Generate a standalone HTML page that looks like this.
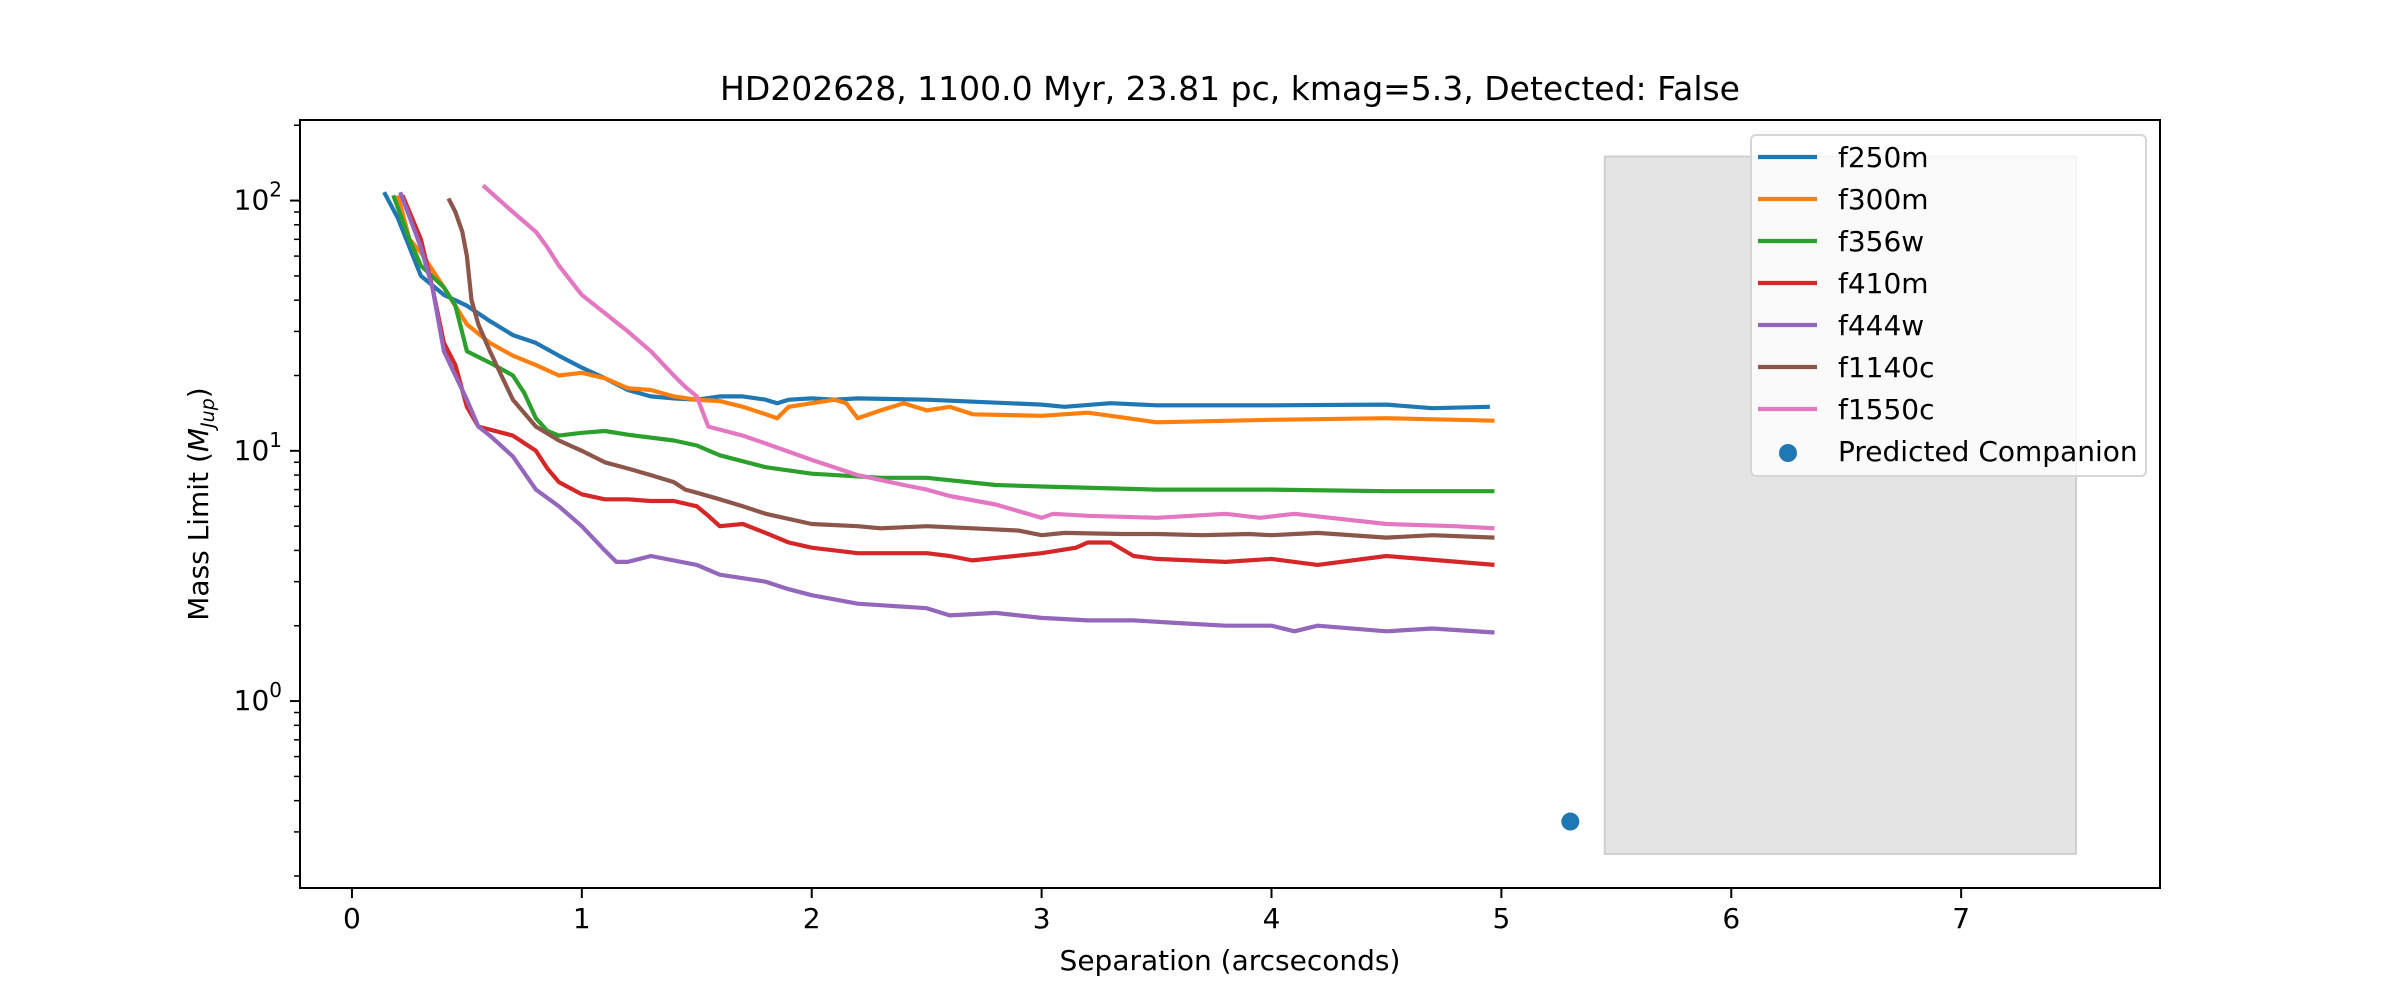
<!DOCTYPE html>
<html><head><meta charset="utf-8"><style>
html,body{margin:0;padding:0;background:#fff}
svg{display:block;font-family:"DejaVu Sans","Liberation Sans",sans-serif}
</style></head><body>
<svg id="chart" width="2400" height="1000" viewBox="0 0 2400 1000">
<rect x="0" y="0" width="2400" height="1000" fill="#fff"/>
<text x="1230" y="100" text-anchor="middle" font-size="33" fill="#000">HD202628, 1100.0 Myr, 23.81 pc, kmag=5.3, Detected: False</text>
<g id="plot"></g>
<text x="1230" y="970" text-anchor="middle" font-size="28">Separation (arcseconds)</text>
<text transform="translate(208,504) rotate(-90)" text-anchor="middle" font-size="28">Mass Limit (<tspan font-style="italic">M</tspan><tspan font-style="italic" font-size="19" dy="6">Jup</tspan><tspan dy="-6">)</tspan></text>
</svg>
<script>
const xTicks=[0,1,2,3,4,5,6,7];
const yMajor=[1,10,100];
const seriesNames=["f250m","f300m","f356w","f410m","f444w","f1140c","f1550c"];
const colors=["#1f77b4","#ff7f0e","#2ca02c","#d62728","#9467bd","#8c564b","#e377c2"];
const f250m=[[0.14,108],[0.2,85],[0.3,50],[0.4,42],[0.5,38],[0.6,33],[0.7,29],[0.8,27],[0.9,24],[1.0,21.5],[1.1,19.5],[1.2,17.5],[1.3,16.5],[1.4,16.2],[1.5,16],[1.6,16.5],[1.7,16.5],[1.8,16],[1.85,15.5],[1.9,16],[2.0,16.2],[2.1,16],[2.2,16.2],[2.5,16],[3.0,15.3],[3.1,15],[3.3,15.5],[3.5,15.2],[4,15.2],[4.5,15.3],[4.7,14.8],[4.95,15]];
const f300m=[[0.2,105],[0.25,70],[0.3,62],[0.4,45],[0.5,32],[0.6,27],[0.7,24],[0.8,22],[0.9,20],[1.0,20.5],[1.1,19.5],[1.2,17.8],[1.3,17.5],[1.4,16.5],[1.5,16],[1.6,15.8],[1.7,15],[1.8,14],[1.85,13.5],[1.9,15],[2.0,15.5],[2.1,16],[2.15,15.5],[2.2,13.5],[2.3,14.5],[2.4,15.5],[2.5,14.5],[2.6,15],[2.7,14],[3,13.8],[3.2,14.2],[3.3,13.8],[3.5,13],[4,13.3],[4.5,13.5],[4.97,13.2]];
const f356w=[[0.18,105],[0.25,70],[0.3,55],[0.4,45],[0.45,38],[0.5,25],[0.6,22.5],[0.7,20],[0.75,17],[0.8,13.5],[0.85,12],[0.9,11.5],[1.0,11.8],[1.1,12],[1.2,11.6],[1.4,11],[1.5,10.5],[1.6,9.6],[1.8,8.6],[2.0,8.1],[2.3,7.8],[2.5,7.8],[2.8,7.3],[3.0,7.2],[3.5,7.0],[4,7.0],[4.5,6.9],[4.97,6.9]];
const f410m=[[0.22,105],[0.3,70],[0.35,45],[0.4,27],[0.45,22],[0.5,15],[0.55,12.5],[0.7,11.5],[0.8,10],[0.85,8.5],[0.9,7.5],[1.0,6.7],[1.1,6.4],[1.2,6.4],[1.3,6.3],[1.4,6.3],[1.5,6.0],[1.55,5.5],[1.6,5.0],[1.7,5.1],[1.8,4.7],[1.9,4.3],[2.0,4.1],[2.2,3.9],[2.5,3.9],[2.6,3.8],[2.7,3.65],[3,3.9],[3.15,4.1],[3.2,4.3],[3.3,4.3],[3.4,3.8],[3.5,3.7],[3.8,3.6],[4.0,3.7],[4.2,3.5],[4.5,3.8],[4.97,3.5]];
const f444w=[[0.21,108],[0.3,65],[0.35,45],[0.4,25],[0.45,20],[0.5,16],[0.55,12.5],[0.6,11.5],[0.7,9.5],[0.8,7],[0.9,6.0],[1.0,5.0],[1.1,4.0],[1.15,3.6],[1.2,3.6],[1.3,3.8],[1.5,3.5],[1.6,3.2],[1.8,3.0],[1.9,2.8],[2.0,2.65],[2.2,2.45],[2.5,2.35],[2.6,2.2],[2.8,2.25],[3.0,2.15],[3.2,2.1],[3.4,2.1],[3.6,2.05],[3.8,2.0],[4.0,2.0],[4.1,1.9],[4.2,2.0],[4.5,1.9],[4.7,1.95],[4.97,1.88]];
const f1140c=[[0.42,102],[0.45,90],[0.48,75],[0.5,60],[0.52,40],[0.55,32],[0.6,25],[0.65,20],[0.7,16],[0.8,12.5],[0.9,11],[1.0,10],[1.1,9],[1.2,8.5],[1.3,8],[1.4,7.5],[1.45,7.0],[1.5,6.8],[1.6,6.4],[1.7,6],[1.8,5.6],[2.0,5.1],[2.2,5.0],[2.3,4.9],[2.5,5.0],[2.7,4.9],[2.9,4.8],[3.0,4.6],[3.1,4.7],[3.35,4.65],[3.5,4.65],[3.7,4.6],[3.9,4.65],[4.0,4.6],[4.2,4.7],[4.5,4.5],[4.7,4.6],[4.97,4.5]];
const f1550c=[[0.57,115],[0.7,90],[0.8,75],[0.85,65],[0.9,55],[1.0,42],[1.2,30],[1.3,25],[1.4,20],[1.45,18],[1.5,16.5],[1.55,12.5],[1.7,11.5],[1.8,10.7],[2.0,9.2],[2.2,8],[2.4,7.3],[2.5,7],[2.6,6.6],[2.8,6.1],[3.0,5.4],[3.05,5.6],[3.2,5.5],[3.5,5.4],[3.8,5.6],[3.95,5.4],[4.1,5.6],[4.5,5.1],[4.8,5.0],[4.97,4.9]];
const seriesData=[f250m,f300m,f356w,f410m,f444w,f1140c,f1550c];
const companion=[5.3,0.33];
const shadeX=[5.45,7.5];
const shadeY=[0.245,150];

const L=300,R=2160,T=120,B=888;
const X0=-0.226,X1=7.865,LY0=-0.747,LY1=2.322;
const sx=v=>L+(v-X0)/(X1-X0)*(R-L);
const sy=v=>B-(Math.log10(v)-LY0)/(LY1-LY0)*(B-T);
const NS="http://www.w3.org/2000/svg";
const g=document.getElementById('plot');
function mk(t,a,p){const e=document.createElementNS(NS,t);for(const k in a)e.setAttribute(k,a[k]);(p||g).appendChild(e);return e;}

const sh=mk('rect',{x:sx(shadeX[0]),y:sy(shadeY[1]),width:sx(shadeX[1])-sx(shadeX[0]),height:sy(shadeY[0])-sy(shadeY[1]),fill:'#e4e4e4',stroke:'#cfcfcf','stroke-width':2});



seriesData.forEach((d,i)=>{
  const p=mk('polyline',{points:d.map(q=>sx(q[0]).toFixed(1)+','+sy(q[1]).toFixed(1)).join(' '),fill:'none',stroke:colors[i],'stroke-width':4.2,'stroke-linejoin':'round'});
  
  
});
const c=mk('circle',{cx:sx(companion[0]),cy:sy(companion[1]),r:9,fill:'#1f77b4'});



const fr=mk('rect',{x:L,y:T,width:R-L,height:B-T,fill:'none',stroke:'#000','stroke-width':2});



xTicks.forEach(v=>{
  const x=sx(v);
  const t=mk('line',{x1:x,x2:x,y1:B,y2:B+10,stroke:'#000','stroke-width':2});
  
  
  const l=mk('text',{x:x,y:B+40,'text-anchor':'middle','font-size':28});
  l.textContent=v;
  
  
});
const expo={1:'0',10:'1',100:'2'};
yMajor.forEach(v=>{
  const y=sy(v);
  const t=mk('line',{x1:L-10,x2:L,y1:y,y2:y,stroke:'#000','stroke-width':2});
  
  
  const l=mk('text',{x:L-18,y:y+9,'text-anchor':'end','font-size':28});
  l.innerHTML='10<tspan font-size="20" dy="-13">'+expo[v]+'</tspan>';
  
  
});
[0.1,1,10,100].forEach(dec=>{for(let k=2;k<=9;k++){const v=dec*k;const y=sy(v);if(y<T||y>B)continue;
  const t=mk('line',{x1:L-6,x2:L,y1:y,y2:y,stroke:'#000','stroke-width':1.5});
  
  }});

const lg=mk('g',{});


mk('rect',{x:1751,y:135,width:395,height:341,rx:5,fill:'#fff','fill-opacity':0.8,stroke:'#d6d6d6','stroke-width':2},lg);
seriesNames.forEach((n,i)=>{
  const y=157+i*42;
  const e=mk('g',{},lg);
  
  
  mk('line',{x1:1758,x2:1817,y1:y,y2:y,stroke:colors[i],'stroke-width':4.2},e);
  const t=mk('text',{x:1838,y:y+10,'font-size':28},e);t.textContent=n;
});
const ce=mk('g',{},lg);


mk('circle',{cx:1788,cy:453,r:9,fill:'#1f77b4'},ce);
const ct=mk('text',{x:1838,y:461,'font-size':28},ce);ct.textContent='Predicted Companion';
</script>
</body></html>
